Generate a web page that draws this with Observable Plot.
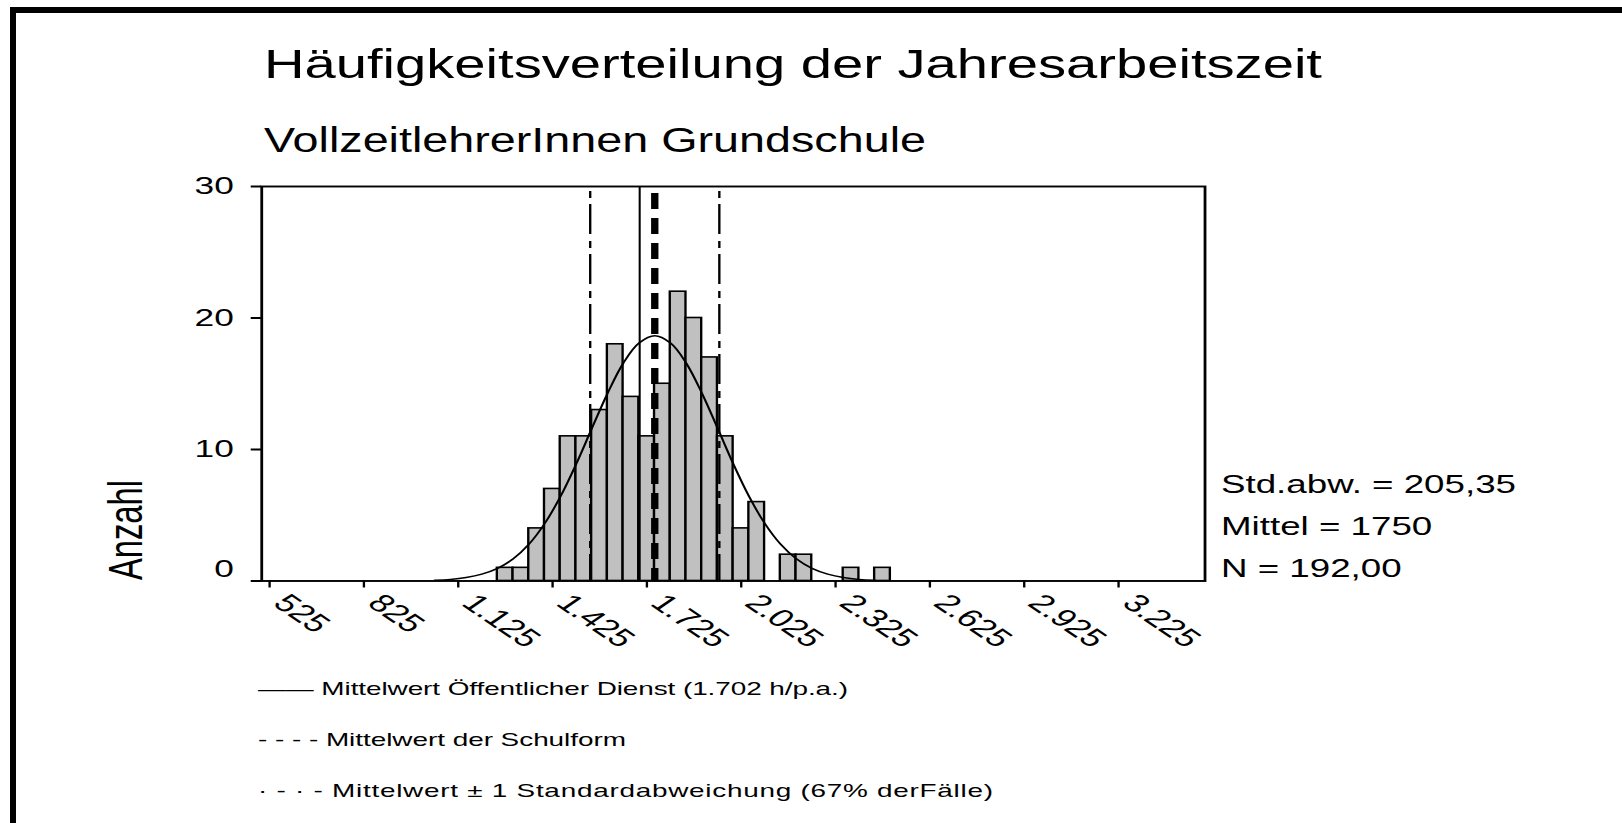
<!DOCTYPE html>
<html><head><meta charset="utf-8">
<script src="https://cdn.jsdelivr.net/npm/d3@7"></script>
<script src="https://cdn.jsdelivr.net/npm/@observablehq/plot@0.6"></script>
<style>
html,body{margin:0;padding:0;background:#fff;overflow:hidden;width:1622px;height:823px;}
#stage{position:absolute;left:0;top:0;transform-origin:0 0;}
#border{position:absolute;left:10px;top:7px;width:1700px;height:900px;border-left:6px solid #000;border-top:6px solid #000;box-sizing:border-box;pointer-events:none;}
</style></head><body>
<div id="stage"></div>
<div id="border"></div>
<script>
// ---- data ----
const binStart = [1250,1300,1350,1400,1450,1500,1550,1600,1650,1700,1750,1800,1850,1900,1950,2000,2050,2100,2150,2200,2250,2300,2350,2400,2450];
const counts   = [1,1,4,7,11,11,13,18,14,11,15,22,20,17,11,4,6,0,2,2,0,0,1,0,1];
const binWidth = 50;
const curveX = [1050,1100,1150,1200,1250,1300,1350,1400,1450,1500,1550,1600,1650,1700,1750,1800,1850,1900,1950,2000,2050,2100,2150,2200,2250,2300,2350,2400,2450];
const curveY = [0.06,0.12,0.26,0.52,0.96,1.69,2.8,4.37,6.42,8.89,11.61,14.28,16.57,18.1,18.65,18.1,16.57,14.28,11.61,8.89,6.42,4.37,2.8,1.69,0.96,0.52,0.26,0.12,0.06];
const meanPublic = 1702;
const meanSchool = 1750;
const sdLines = [1544.65, 1955.35];
const xTickValues = [525,825,1125,1425,1725,2025,2325,2625,2925,3225];
const xTickLabels = ["525","825","1.125","1.425","1.725","2.025","2.325","2.625","2.925","3.225"];
const yTickValues = [0,10,20,30];
const yTickLabels = ["0","10","20","30"];
const titleText = "Häufigkeitsverteilung der Jahresarbeitszeit";
const subtitleText = "VollzeitlehrerInnen Grundschule";
const yLabelText = "Anzahl";
const statsLines = ["Std.abw. = 205,35", "Mittel = 1750", "N = 192,00"];
const legendLines = ["—— Mittelwert Öffentlicher Dienst (1.702 h/p.a.)", "- - - - Mittelwert der Schulform", "· - · - Mittelwert ± 1 Standardabweichung (67% derFälle)"];

// ---- layout ----
const S = 1.47;               // horizontal stretch of the original graphic
const W = 1622 / S, H = 823;
const FONT = "'Liberation Sans', Arial, Helvetica, sans-serif";

const bars = binStart.map((b, i) => ({x1: b, x2: b + binWidth, n: counts[i]})).filter(d => d.n > 0);
const curve = curveX.map((x, i) => ({x, y: curveY[i]}));

const plot = Plot.plot({
  width: W, height: H,
  marginLeft: 261 / S, marginRight: W - 1204.3 / S, marginTop: 186, marginBottom: H - 580.5,
  style: {background: "transparent", fontFamily: FONT, color: "#000", overflow: "visible"},
  x: {domain: [500, 3500], label: null},
  y: {domain: [0, 30], label: null},
  marks: [
    Plot.rectY(bars, {x1: "x1", x2: "x2", y: "n", fill: "#c0c0c0", stroke: "#000", strokeWidth: 1.6}),
    Plot.ruleX([meanPublic], {stroke: "#000", strokeWidth: 1.4}),
    Plot.ruleX(sdLines, {stroke: "#000", strokeWidth: 1.6, strokeDasharray: "7,6,30,7", strokeDashoffset: 45}),
    Plot.ruleX([meanSchool], {stroke: "#000", strokeWidth: 5, strokeDasharray: "16,9", strokeDashoffset: 18}),
    Plot.line(curve, {x: "x", y: "y", stroke: "#000", strokeWidth: 1.5, curve: "catmull-rom"}),
    Plot.frame({stroke: "#000", strokeWidth: 1.9}),
    Plot.axisX({ticks: xTickValues, tickSize: 7, tickFormat: () => "", strokeWidth: 1.6, label: null}),
    Plot.text(xTickValues, {x: d => d, text: (d, i) => xTickLabels[i], frameAnchor: "bottom", dx: 14, dy: 11,
      rotate: 45, textAnchor: "start", lineAnchor: "top", fontSize: 25, fill: "#000"}),
    Plot.axisY({ticks: yTickValues, tickSize: 7, tickPadding: 12, strokeWidth: 2, fontSize: 24, label: null,
      tickFormat: d => d === 0 ? "" : yTickLabels[yTickValues.indexOf(d)]}),
    Plot.text([0], {y: d => d, text: d => yTickLabels[yTickValues.indexOf(d)], frameAnchor: "left",
      dx: -19, dy: -12, textAnchor: "end", fontSize: 24, fill: "#000"})
  ]
});

const stage = document.getElementById("stage");
stage.style.width = W + "px";
stage.style.height = H + "px";
stage.style.transform = `scaleX(${S})`;
stage.appendChild(plot);

// ---- titles, y label, statistics and legend ----
const svg = d3.select(plot);
function addText(str, x, y, size, extra = {}) {
  const t = svg.append("text").text(str)
    .attr("x", x).attr("y", y)
    .attr("text-anchor", "start")
    .attr("font-family", FONT).attr("font-size", size).attr("fill", "#000");
  for (const k in extra) t.attr(k, extra[k]);
  return t;
}
addText(titleText, 264 / S, 77.6, 41, {textLength: 1058 / S, lengthAdjust: "spacingAndGlyphs"});
addText(subtitleText, 264 / S, 152, 35.5, {textLength: 662 / S, lengthAdjust: "spacingAndGlyphs"});
addText(yLabelText, 0, 0, 32.7, {"text-anchor": "middle", "dominant-baseline": "central",
  transform: `translate(${125.5 / S},530) rotate(-90)`});
[492.7, 535, 576.7].forEach((y, i) => addText(statsLines[i], 1221 / S, y, 25));
const legendEnds = [848, 626, 993];
[695, 746, 796.7].forEach((y, i) => addText(legendLines[i], 258 / S, y, 19,
  {textLength: (legendEnds[i] - 258) / S, lengthAdjust: "spacing"}));
</script>
</body></html>
